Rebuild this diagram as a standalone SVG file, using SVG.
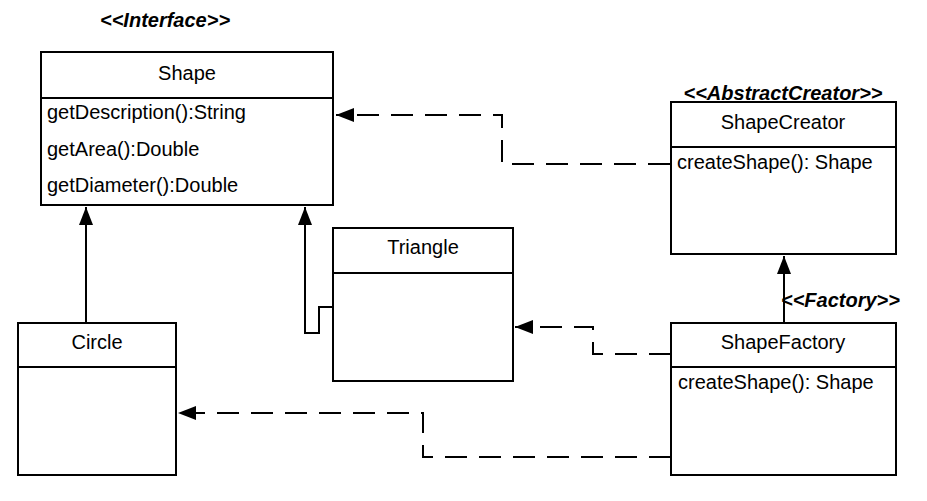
<svg xmlns="http://www.w3.org/2000/svg" width="927" height="501" viewBox="0 0 927 501">
<style>
.box{fill:#fff;stroke:#000;stroke-width:2}
.div{stroke:#000;stroke-width:2}
text{font-family:"Liberation Sans",Arial,sans-serif;font-size:20px;fill:#000}
.t{text-anchor:middle}
.st{font-weight:bold;font-style:italic}
.solid{fill:none;stroke:#000;stroke-width:2}
.dash{fill:none;stroke:#000;stroke-width:2;stroke-dasharray:22 12}
</style>
<defs>
<marker id="arr" viewBox="0 0 18 14" refX="18" refY="7" markerWidth="18" markerHeight="14" markerUnits="userSpaceOnUse" orient="auto">
<path d="M0,0 L18,7 L0,14 Z" fill="#000"/>
</marker>
</defs>
<rect width="927" height="501" fill="#fff"/>
<g id="connectors">
<path class="solid" d="M86,323 V207" marker-end="url(#arr)"/>
<path class="solid" d="M333,307 H319 V333 H305 V207" marker-end="url(#arr)"/>
<path class="dash" d="M670,164 H502 V115 H336" marker-end="url(#arr)"/>
<path class="solid" d="M784,323 V256" marker-end="url(#arr)"/>
<path class="dash" d="M671,354 H593 V327 H515" marker-end="url(#arr)"/>
<path class="dash" d="M671,457 H423 V413 H178" marker-end="url(#arr)"/>
</g>
<g id="shape">
<text class="st" x="100" y="27">&lt;&lt;Interface&gt;&gt;</text>
<rect class="box" x="41" y="52" width="292" height="153"/>
<line class="div" x1="41" y1="98" x2="333" y2="98"/>
<text class="t" x="187" y="80">Shape</text>
<text x="47" y="119">getDescription():String</text>
<text x="47" y="156">getArea():Double</text>
<text x="47" y="192">getDiameter():Double</text>
</g>
<g id="shapecreator">
<rect class="box" x="671" y="102" width="225" height="152"/>
<line class="div" x1="671" y1="147" x2="896" y2="147"/>
<text class="st t" x="783" y="100">&lt;&lt;AbstractCreator&gt;&gt;</text>
<text class="t" x="783" y="129">ShapeCreator</text>
<text x="677" y="169">createShape(): Shape</text>
</g>
<g id="triangle">
<rect class="box" x="333" y="228" width="180" height="153"/>
<line class="div" x1="333" y1="273" x2="513" y2="273"/>
<text class="t" x="423" y="254">Triangle</text>
</g>
<g id="circle">
<rect class="box" x="18" y="323" width="158" height="152"/>
<line class="div" x1="18" y1="367" x2="176" y2="367"/>
<text class="t" x="97" y="349">Circle</text>
</g>
<g id="shapefactory">
<text class="st" x="781" y="307">&lt;&lt;Factory&gt;&gt;</text>
<rect class="box" x="671" y="323" width="225" height="152"/>
<line class="div" x1="671" y1="367" x2="896" y2="367"/>
<text class="t" x="783" y="349">ShapeFactory</text>
<text x="678" y="389">createShape(): Shape</text>
</g>
</svg>
